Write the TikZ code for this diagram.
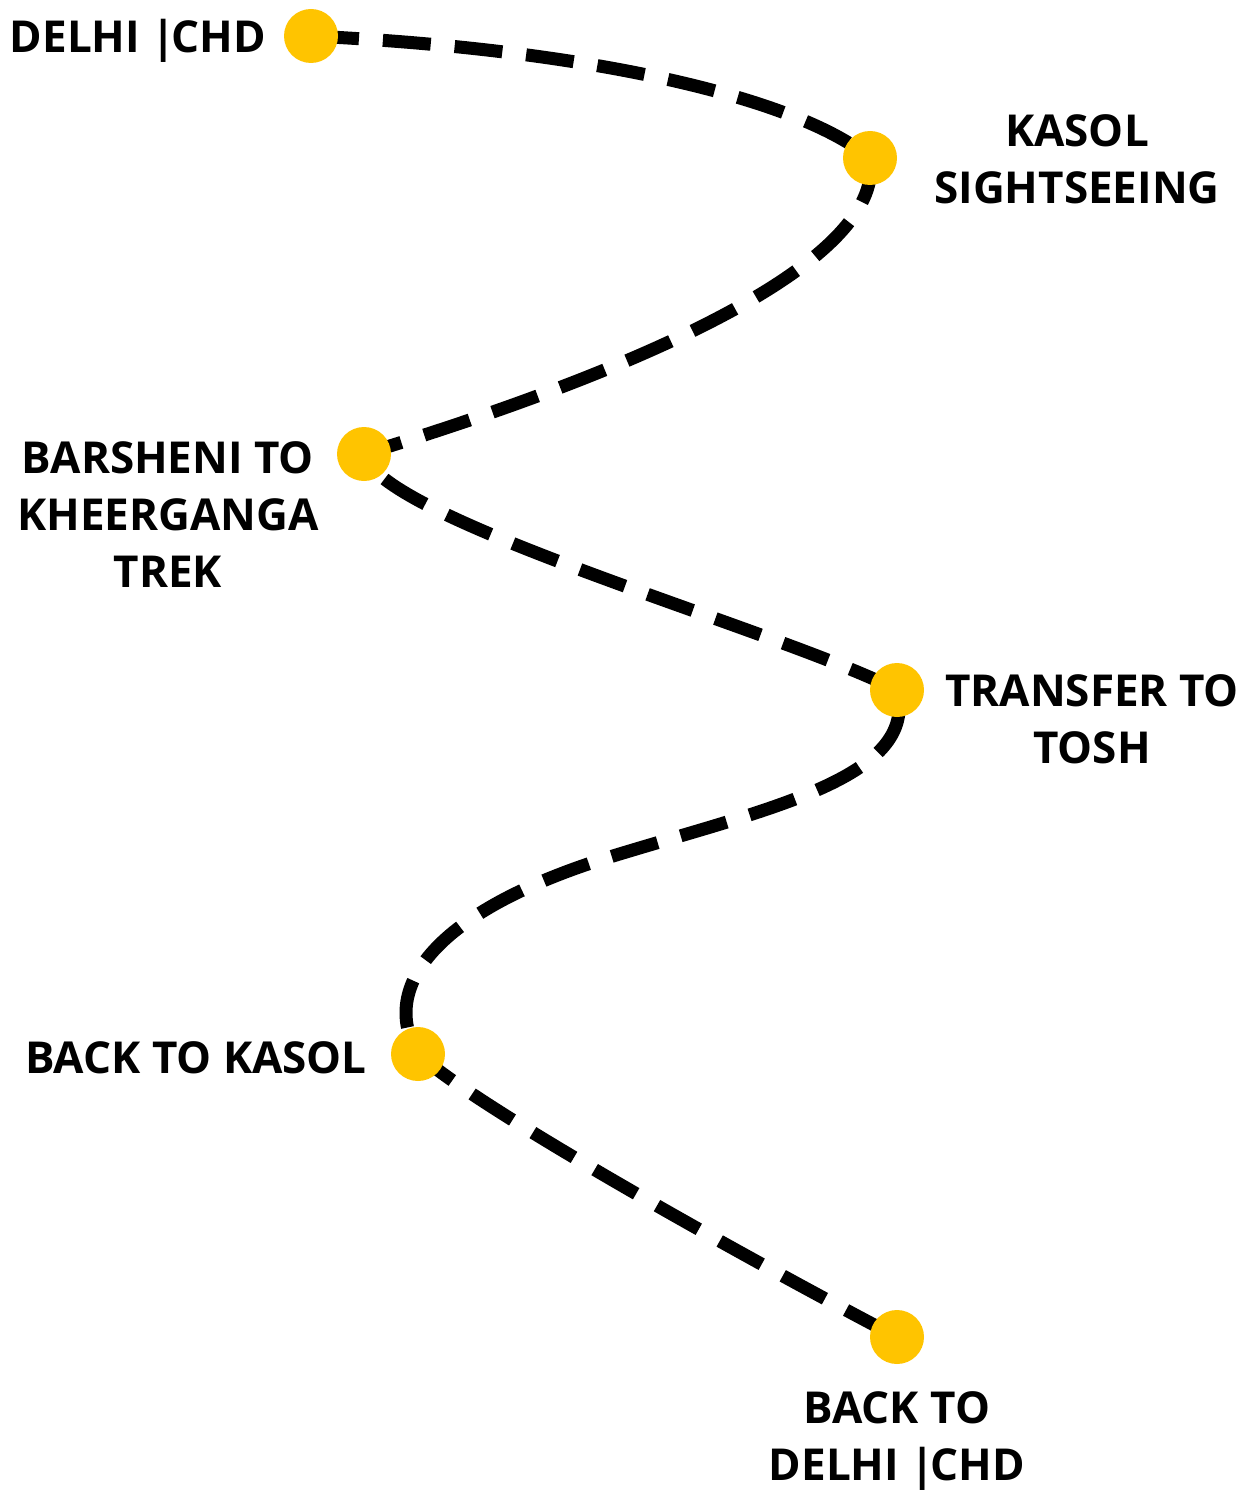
\documentclass[tikz,border=0pt]{standalone}
\usepackage{fontspec}
\setmainfont{Open Sans}
\definecolor{dotyellow}{HTML}{FFC400}
\begin{document}
\begin{tikzpicture}[x=1pt,y=-1pt,
  stop/.style={circle,fill=dotyellow,minimum size=54pt,inner sep=0pt},
  lbl/.style={font=\fontsize{44}{57}\selectfont\bfseries,align=center,inner sep=0pt},
  route/.style={line width=13pt,dash pattern=on 48pt off 24pt}]
\fill[white] (0,0) rectangle (1239,1490);
\useasboundingbox (0,0) rectangle (1239,1490);
\coordinate (p1) at (311,36);
\coordinate (p2) at (870,158);
\coordinate (p3) at (364,454);
\coordinate (p4) at (897,690);
\coordinate (m45) at (600,860);
\coordinate (p5) at (418,1054);
\coordinate (p6) at (897,1337);
\draw[route] (p1) .. controls (600,50) and (800,100) .. (p2)
  .. controls (888,270) and (600,382) .. (p3)
  .. controls (380,520) and (780,630) .. (p4)
  .. controls (920,780) and (760,810) .. (m45)
  .. controls (430,915) and (380,990) .. (p5)
  .. controls (480,1110) and (750,1260) .. (p6);
\node[stop] (d1) at (p1) {};
\node[stop] (d2) at (p2) {};
\node[stop] (d3) at (p3) {};
\node[stop] (d4) at (p4) {};
\node[stop] (d5) at (p5) {};
\node[stop] (d6) at (p6) {};
\node[lbl] (t1) at (138,41) {DELHI |\kern-4pt CHD};
\node[lbl] (t2) at (1077,159) {KASOL\\SIGHTSEEING};
\node[lbl] (t3) at (168,515) {BARSHENI TO\\KHEERGANGA\\TREK};
\node[lbl] (t4) at (1092,719) {TRANSFER TO\\TOSH};
\node[lbl] (t5) at (196,1058) {BACK TO KASOL};
\node[lbl] (t6) at (897,1441) {BACK TO\\DELHI |\kern-4pt CHD};
\end{tikzpicture}
\end{document}
